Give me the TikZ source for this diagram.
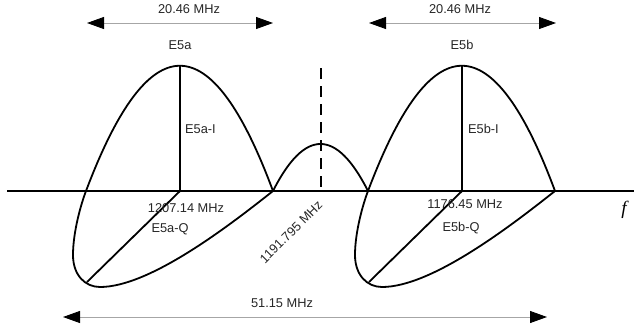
\documentclass[tikz,border=0pt]{standalone}
\usepackage{fontspec}
\setmainfont{Liberation Sans}
\newfontfamily\fserif{Liberation Serif}
\usetikzlibrary{arrows.meta}
\begin{document}
\begin{tikzpicture}[x=1pt,y=-1pt,
  curve/.style={line width=1.8pt, line join=round},
  dim/.style={draw=gray!70, line width=0.9pt,
    {Triangle[length=17pt,width=12pt,color=black]}-{Triangle[length=17pt,width=12pt,color=black]}},
  lbl/.style={font=\fontsize{12.8}{14}\selectfont, text=black!85, inner sep=0pt, anchor=base}]
\useasboundingbox (0,0) rectangle (634,330);

% axis
\coordinate (axL) at (7,191);
\coordinate (axR) at (634,191);
\draw[curve] (axL) -- (axR);

% lobes
\foreach \dx/\n in {0/a,282/b}{
  \begin{scope}[shift={(\dx,0)}]
    \coordinate (rf\n) at (273,191);
    \coordinate (lf\n) at (86,191);
    \coordinate (top\n) at (180,66);
    \coordinate (cen\n) at (180,191);
    \coordinate (bot\n) at (87,282);
    \draw[curve] (rf\n) .. controls (211,24) and (149,24) .. (lf\n)
      .. controls (81,204) and (73,232) .. (73,255)
      .. controls (73,275) and (85,287) .. (100,287)
      .. controls (150,287) and (230,225) .. (rf\n);
    \draw[curve] (top\n) -- (cen\n);
    \draw[curve] (cen\n) -- (bot\n);
  \end{scope}
}

% middle bump
\draw[curve] (rfa) .. controls (304.7,128.3) and (336.3,128.3) .. (lfb);
\coordinate (dtop) at (321,68);
\coordinate (dbot) at (321,191);
\draw[curve, dash pattern=on 11pt off 7pt] (dtop) -- (dbot);

% dimension arrows
\coordinate (a1) at (87,23);  \coordinate (a2) at (273,23);
\coordinate (b1) at (369,23); \coordinate (b2) at (556,23);
\coordinate (c1) at (63,317); \coordinate (c2) at (547,317);
\draw[dim] (a1) -- (a2);
\draw[dim] (b1) -- (b2);
\draw[dim] (c1) -- (c2);

% labels
\node[lbl] (wa) at (189,13.5) {20.46 MHz};
\node[lbl] (wb) at (460,13.5) {20.46 MHz};
\node[lbl] (na) at (180,49) {E5a};
\node[lbl] (nb) at (462,49) {E5b};
\node[lbl, anchor=base west] (ia) at (185,133) {E5a-I};
\node[lbl, anchor=base west] (ib) at (468,133) {E5b-I};
\node[lbl] (fa) at (186,212) {1207.14 MHz};
\node[lbl] (fb) at (465,208) {1176.45 MHz};
\node[lbl] (qa) at (170,232) {E5a-Q};
\node[lbl] (qb) at (461,231) {E5b-Q};
\node[lbl, anchor=center, rotate=45] (fc) at (291,232) {1191.795 MHz};
\node[lbl] (tot) at (282,307) {51.15 MHz};
\node[inner sep=0pt, anchor=base, font=\fserif\fontsize{19}{20}\selectfont\itshape] (fl) at (624,214) {f};
\end{tikzpicture}
\end{document}
